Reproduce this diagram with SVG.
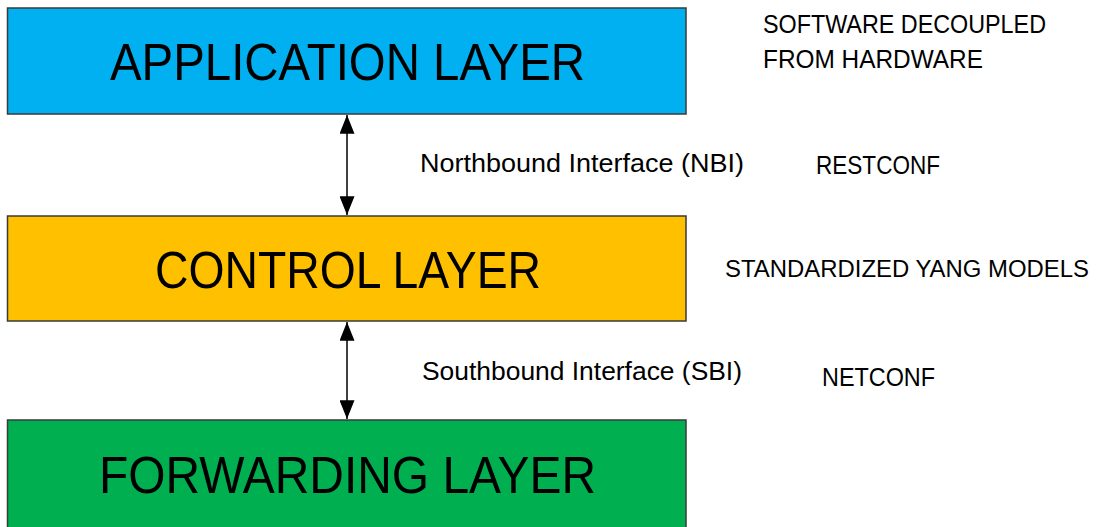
<svg xmlns="http://www.w3.org/2000/svg" width="1098" height="527" viewBox="0 0 1098 527">
  <defs>
    <marker id="arr" viewBox="0 0 20 16" refX="20" refY="8" markerWidth="20" markerHeight="15" markerUnits="userSpaceOnUse" orient="auto-start-reverse">
      <path d="M0,0 L20,8 L0,16 Z" fill="#000"/>
    </marker>
    <style>
      .box { stroke: #3a3a3a; stroke-width: 1.5; }
      .big { font-family: "Liberation Sans", Arial, sans-serif; font-size: 51px; fill: #000; }
      .small { font-family: "Liberation Sans", Arial, sans-serif; font-size: 25px; fill: #000; }
      .conn { stroke: #000; stroke-width: 1.5; fill: none; }
    </style>
  </defs>
  <rect width="1098" height="527" fill="#fff"/>
  <g id="application-layer">
    <rect class="box" x="7.5" y="8" width="678.5" height="106" fill="#00B0F0"/>
    <text class="big" x="110" y="80" textLength="475" lengthAdjust="spacingAndGlyphs">APPLICATION LAYER</text>
  </g>
  <g id="control-layer">
    <rect class="box" x="7.5" y="216" width="678.5" height="105" fill="#FFC000"/>
    <text class="big" x="155" y="288" textLength="386" lengthAdjust="spacingAndGlyphs">CONTROL LAYER</text>
  </g>
  <g id="forwarding-layer">
    <rect class="box" x="7.5" y="420" width="678.5" height="110" fill="#00B050"/>
    <text class="big" x="99" y="493" textLength="497" lengthAdjust="spacingAndGlyphs">FORWARDING LAYER</text>
  </g>
  <g id="connectors">
    <line class="conn" x1="347" y1="115" x2="347" y2="215" marker-start="url(#arr)" marker-end="url(#arr)"/>
    <line class="conn" x1="347" y1="322" x2="347" y2="419" marker-start="url(#arr)" marker-end="url(#arr)"/>
  </g>
  <g id="labels">
    <text class="small" x="763" y="33" textLength="283" lengthAdjust="spacingAndGlyphs">SOFTWARE DECOUPLED</text>
    <text class="small" x="763" y="68" textLength="220" lengthAdjust="spacingAndGlyphs">FROM HARDWARE</text>
    <text class="small" x="420" y="172" textLength="324" lengthAdjust="spacingAndGlyphs">Northbound Interface (NBI)</text>
    <text class="small" x="816" y="174" textLength="124" lengthAdjust="spacingAndGlyphs">RESTCONF</text>
    <text class="small" x="725" y="277" style="font-size:23px" textLength="364" lengthAdjust="spacingAndGlyphs">STANDARDIZED YANG MODELS</text>
    <text class="small" x="422" y="380" textLength="320" lengthAdjust="spacingAndGlyphs">Southbound Interface (SBI)</text>
    <text class="small" x="822" y="386" textLength="113" lengthAdjust="spacingAndGlyphs">NETCONF</text>
  </g>
</svg>
